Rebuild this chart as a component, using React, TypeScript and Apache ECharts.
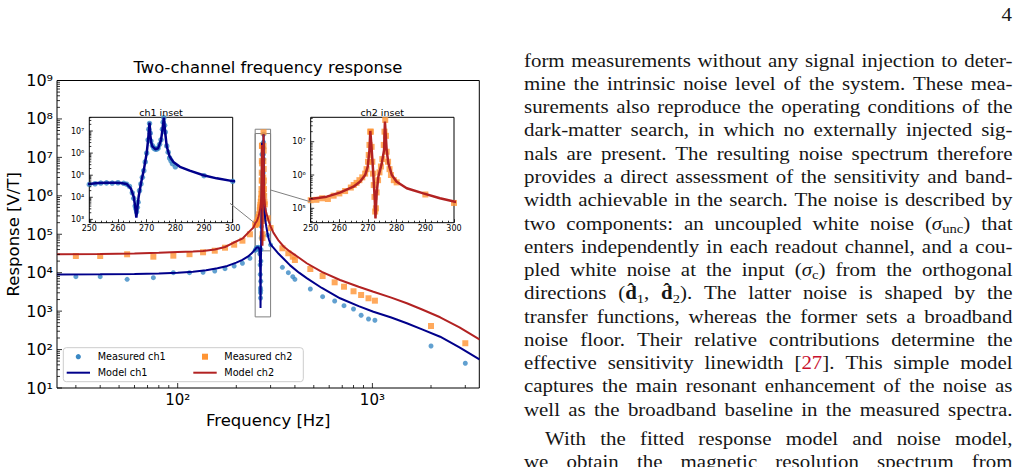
import React, { useEffect, useRef } from "react";
import * as echarts from "echarts";

// ---------------- axis ranges ----------------
const X_RANGE = [24, 3540];
const Y_RANGE = [10, 1e9];
const INSET_X = [250, 300];
const INSET1_Y = [708, 4.17e7];
const INSET2_Y = [3.7e4, 5.4e7];

// ---------------- colours ----------------
const C_MEAS1 = "#3a88c4";
const C_MEAS2 = "#ff9433";
const C_MODEL1 = "#00008b";
const C_MODEL2 = "#b22222";

// ---------------- measured data ----------------
const measCh1Freq = [30, 40, 55, 75, 95, 115, 135, 155, 175, 195, 215, 235,
  250, 252, 254, 256, 258, 260, 262, 263, 264, 265,
  265.5, 266, 266.25, 266.5, 266.75, 267, 267.5, 268, 268.5, 269,
  269.5, 270, 270.5, 270.75, 271, 271.25, 271.5, 272, 272.5, 273,
  273.5, 274, 274.5, 275, 275.5, 275.75, 276, 276.25, 276.5, 277,
  277.5, 278, 278.5, 279, 280, 290, 300,
  345, 370, 390, 400, 480, 555, 640, 715, 800, 875, 955, 1030, 2000, 3000];
const measCh1Val = [7870, 7870, 6730, 7410, 10000, 10000, 10230, 11070, 12700, 14930, 17570, 23700,
  38000, 41000, 44000, 45000, 44000, 45500, 43000, 39000, 31000, 16000,
  9000, 4000, 3000, 2200, 3500, 6000, 20000, 40000, 80000, 160000,
  400000, 1000000, 4000000, 12000000, 22000000, 8000000, 3500000, 2200000, 1700000, 1500000,
  1500000, 1700000, 2500000, 4000000, 12000000, 25000000, 40000000, 18000000, 9000000, 2100000,
  1100000, 600000, 450000, 330000, 240000, 95000, 53000,
  13800, 10000, 7870, 6730, 3770, 2375, 1835, 1386, 1137, 780, 624, 578, 124, 44];

const measCh2Freq = [30, 40, 55, 75, 95, 115, 135, 155, 175, 195, 215, 235,
  250, 252, 254, 256, 258, 260, 262, 264, 265, 266,
  267, 268, 269, 269.5, 270, 270.25, 270.5, 270.75, 271, 271.25,
  271.5, 271.75, 272, 272.25, 272.5, 272.75, 273, 273.5, 274, 274.5,
  275, 275.5, 275.75, 276, 276.25, 276.5, 277, 277.5, 278, 279,
  280, 290, 300,
  345, 370, 390, 400, 480, 555, 640, 715, 800, 875, 955, 1030, 2000, 3000];
const measCh2Val = [27200, 27200, 30100, 26100, 27700, 30300, 33950, 37350, 44700, 53500, 68000, 99800,
  175000, 180000, 200000, 190000, 240000, 280000, 330000, 420000, 500000, 580000,
  700000, 850000, 1100000, 1500000, 2500000, 4000000, 8000000, 20000000, 20000000, 7000000,
  2500000, 1100000, 500000, 220000, 80000, 100000, 300000, 700000, 1200000, 1800000,
  3000000, 8000000, 20000000, 45000000, 15000000, 5000000, 2500000, 1500000, 1000000, 700000,
  600000, 260000, 145000,
  43150, 32000, 26060, 21400, 12470, 8210, 5620, 4320, 3280, 2630, 2160, 1870, 410, 146];

// ---------------- model curves ----------------
const modelCh1Freq = [24, 40, 60, 80, 100, 120, 140, 160, 180, 200, 215, 230, 240, 245,
  250, 253, 256, 259, 261, 263, 264.5, 265.5, 266, 266.4, 266.8, 267.2, 268, 269, 270, 270.5,
  271, 271.3, 271.6, 272, 273, 274, 275, 275.5, 276, 276.4, 277, 278, 279.3, 281.6, 285,
  289.8, 294.4, 300, 310, 330, 350, 378, 420, 460, 550, 682, 850, 1012, 1250, 1503, 1800,
  2228, 2800, 3545];
const modelCh1Val = [9000, 9050, 9200, 9500, 9900, 10600, 11600, 13000, 15000, 18300, 21500, 26500, 32000, 36000,
  40000, 44000, 45500, 45700, 44500, 40000, 25000, 10500, 3700, 1200, 3700, 10500, 42000, 170000, 980000, 3900000,
  24000000, 6000000, 3000000, 2000000, 1500000, 1650000, 3900000, 11000000, 40000000, 10000000, 2000000, 700000, 400000, 240000, 160000,
  100000, 72000, 54000, 45000, 31000, 23000, 15500, 10000, 7200, 4000, 2160, 1350, 966, 680, 483, 335,
  216, 114, 55.8];

const modelCh2Freq = [24, 40, 60, 80, 100, 120, 135, 155, 175, 193, 216, 233, 245,
  250, 255.6, 260.2, 264.9, 267.2, 269, 269.9, 270.5, 270.8, 271.3, 271.9, 272.3, 272.6, 273,
  273.6, 274.8, 275.6, 275.9, 276.5, 277.1, 278.3, 280, 283.5, 289.3, 295.1, 300,
  310, 330, 350, 378, 420, 460, 550, 682, 850, 1012, 1250, 1503, 1800, 2228, 2800, 3545];
const modelCh2Val = [30300, 30800, 31800, 33000, 34600, 35800, 36700, 40000, 46600, 60000, 78500, 117000, 150000,
  190000, 224000, 295000, 447000, 630000, 1000000, 1780000, 5600000, 21000000, 5600000, 890000, 224000, 50000, 275000,
  890000, 2240000, 5600000, 40000000, 5600000, 2240000, 1000000, 630000, 400000, 280000, 200000, 160000,
  110000, 68000, 48000, 35200, 24500, 17600, 10500, 6460, 4300, 3205, 2250, 1600, 1100, 692, 380, 185];

// ---------------- texts ----------------
const TITLE = "Two-channel frequency response";
const X_NAME = "Frequency [Hz]";
const Y_NAME = "Response [V/T]";
const LEGEND_LABELS = ["Measured ch1", "Measured ch2", "Model ch1", "Model ch2"];
const INSET_TITLES = ["ch1 inset", "ch2 inset"];
const PAGE_NUMBER = "4";
const BODY_LINES = [
  "form measurements without any signal injection to deter-",
  "mine the intrinsic noise level of the system. These mea-",
  "surements also reproduce the operating conditions of the",
  "dark-matter search, in which no externally injected sig-",
  "nals are present. The resulting noise spectrum therefore",
  "provides a direct assessment of the sensitivity and band-",
  "width achievable in the search. The noise is described by",
  "two components: an uncoupled white noise ({i|σ}{s|unc}) that",
  "enters independently in each readout channel, and a cou-",
  "pled white noise at the input ({i|σ}{s|c}) from the orthogonal",
  "directions ({b|d\u0302}{s|1}, {b|d\u0302}{s|2}). The latter noise is shaped by the",
  "transfer functions, whereas the former sets a broadband",
  "noise floor. Their relative contributions determine the",
  "effective sensitivity linewidth [{r|27}]. This simple model",
  "captures the main resonant enhancement of the noise as",
  "well as the broadband baseline in the measured spectra.",
  "With the fitted response model and noise model,",
  "we obtain the magnetic resolution spectrum from",
];

const SANS = "DejaVu Sans";
const SERIF = '"Liberation Serif", "Times New Roman", serif';
const SUP = "⁰¹²³⁴⁵⁶⁷⁸⁹";

const pairs = (xs: number[], ys: number[]) => xs.map((x, i) => [x, ys[i]]);

const powLabel = (v: number) => {
  const e = Math.log10(v);
  const r = Math.round(e);
  if (Math.abs(e - r) > 1e-6) return "";
  return "10" + String(r).split("").map((d) => SUP[+d]).join("");
};

function logTicks(lo: number, hi: number) {
  const out: number[][] = [];
  for (let e = Math.floor(Math.log10(lo)); e <= Math.ceil(Math.log10(hi)); e++) {
    for (let m = 1; m <= 9; m++) {
      const v = m * Math.pow(10, e);
      if (v >= lo * 0.9999 && v <= hi * 1.0001) out.push([v, m === 1 ? 1 : 0]);
    }
  }
  return out;
}

function tickSeries(idx: number, xMin: number, yMin: number, ticks: number[][], axis: "x" | "y", majorLen: number, minorLen: number) {
  return {
    type: "custom",
    xAxisIndex: idx,
    yAxisIndex: idx,
    silent: true,
    clip: false,
    z: 6,
    data: ticks.map(([v, major]) => (axis === "x" ? [v, yMin, major] : [xMin, v, major])),
    renderItem: (_p: any, api: any) => {
      const p = api.coord([api.value(0), api.value(1)]);
      const len = api.value(2) ? majorLen : minorLen;
      const shape = axis === "x"
        ? { x1: p[0], y1: p[1], x2: p[0], y2: p[1] - len }
        : { x1: p[0], y1: p[1], x2: p[0] + len, y2: p[1] };
      return { type: "line", shape, style: { stroke: "#000", lineWidth: 0.8 } };
    },
  };
}

// ---------------- body text (justified) ----------------
type Seg = { st: string; t: string };
const BODY_SIZE = 19;
const BODY_SX = 1.1;
const STY: Record<string, { size: number; style?: string; weight?: string; dy?: number; color?: string }> = {
  n: { size: BODY_SIZE },
  i: { size: BODY_SIZE, style: "italic" },
  b: { size: BODY_SIZE, weight: "bold" },
  s: { size: 13.3, dy: 3.8 },
  r: { size: BODY_SIZE, color: "#c8102e" },
};
const fontStr = (k: string) => {
  const s = STY[k];
  return `${s.style || "normal"} ${s.weight || "normal"} ${s.size}px ${SERIF}`;
};
function parseWord(w: string): Seg[] {
  const re = /\{(\w)\|([^}]*)\}|([^{]+)/g;
  const out: Seg[] = [];
  let m: RegExpExecArray | null;
  while ((m = re.exec(w))) {
    if (m[3] !== undefined) out.push({ st: "n", t: m[3] });
    else out.push({ st: m[1], t: m[2] });
  }
  return out;
}
function buildBody() {
  const canvas = document.createElement("canvas");
  const ctx = canvas.getContext("2d")!;
  const meas = (s: Seg) => {
    ctx.font = fontStr(s.st);
    return ctx.measureText(s.t).width * BODY_SX;
  };
  const els: any[] = [];
  const LEFT = 524, RIGHT = 1012.5, B0 = 66.3, LS = 23.28, PARSKIP = 6;
  BODY_LINES.forEach((line, i) => {
    const words = line.split(" ").map(parseWord);
    const widths = words.map((ws) => ws.reduce((a, s) => a + meas(s), 0));
    const total = widths.reduce((a, b) => a + b, 0);
    const left = i === 16 ? 545 : LEFT;
    const gap = (RIGHT - left - total) / (words.length - 1);
    const base = B0 + i * LS + (i >= 16 ? PARSKIP : 0);
    let x = left;
    words.forEach((ws, wi) => {
      let xx = x;
      ws.forEach((s) => {
        const st = STY[s.st];
        els.push({
          type: "text",
          x: xx,
          y: base + (st.dy || 0) - 0.3375 * st.size,
          scaleX: BODY_SX,
          silent: true,
          style: {
            text: s.t, font: fontStr(s.st), fill: st.color || "#161616",
            textAlign: "left", align: "left", textVerticalAlign: "middle", verticalAlign: "middle",
          },
        });
        xx += meas(s);
      });
      x += widths[wi] + gap;
    });
  });
  els.push({
    type: "text", x: 1012, y: 14, silent: true, scaleX: BODY_SX,
    style: { text: PAGE_NUMBER, font: `${BODY_SIZE}px ${SERIF}`, fill: "#161616", textAlign: "right", align: "right", textVerticalAlign: "middle", verticalAlign: "middle" },
  });
  return els;
}

function txt(x: number, y: number, text: string, size: number, align = "center", extra: any = {}) {
  return {
    type: "text", x, y, silent: true, z: 20, ...extra,
    style: { text, font: `${size}px "${SANS}"`, fill: "#000", textAlign: align, align, textVerticalAlign: "middle", verticalAlign: "middle" },
  };
}

function buildOption() {
  const axisLabelMain = (size: number, margin: number) => ({
    fontFamily: SANS, fontSize: size, color: "#000", margin, formatter: (v: number) => powLabel(v),
  });
  const noLines = { axisLine: { show: false }, axisTick: { show: false }, splitLine: { show: false } };
  const insetX = (idx: number) => ({
    type: "value", gridIndex: idx, min: INSET_X[0], max: INSET_X[1], interval: 10,
    axisLine: { show: false }, splitLine: { show: false }, minorSplitLine: { show: false },
    axisTick: { show: true, inside: true, length: 3.5, lineStyle: { color: "#000", width: 0.8 } },
    minorTick: { show: true, splitNumber: 5, length: 2, lineStyle: { color: "#000", width: 0.8 } },
    axisLabel: { fontFamily: SANS, fontSize: 8, color: "#000", margin: 2 },
  });
  const insetY = (idx: number, r: number[]) => ({
    type: "log", gridIndex: idx, min: r[0], max: r[1], ...noLines,
    axisLabel: { fontFamily: SANS, fontSize: 8, color: "#000", margin: 5, formatter: (v: number) => powLabel(v) },
  });
  const gridStyle = { show: true, borderColor: "#000", borderWidth: 1, backgroundColor: "transparent" };

  const legendEls = [
    { type: "rect", z: 19, silent: true, shape: { x: 63.3, y: 347.7, width: 240, height: 34, r: 3 }, style: { fill: "rgba(255,255,255,0.8)", stroke: "#cccccc", lineWidth: 1 } },
    { type: "circle", z: 20, silent: true, shape: { cx: 78.3, cy: 356.7, r: 2.6 }, style: { fill: C_MEAS1 } },
    txt(97.7, 356.7, LEGEND_LABELS[0], 9.7, "left"),
    { type: "rect", z: 20, silent: true, shape: { x: 202, y: 353.7, width: 6, height: 6 }, style: { fill: C_MEAS2 } },
    txt(224.3, 356.7, LEGEND_LABELS[1], 9.7, "left"),
    { type: "line", z: 20, silent: true, shape: { x1: 66.7, y1: 372.7, x2: 90, y2: 372.7 }, style: { stroke: C_MODEL1, lineWidth: 2 } },
    txt(97.7, 372.7, LEGEND_LABELS[2], 9.7, "left"),
    { type: "line", z: 20, silent: true, shape: { x1: 193.3, y1: 372.7, x2: 216.7, y2: 372.7 }, style: { stroke: C_MODEL2, lineWidth: 2 } },
    txt(224.3, 372.7, LEGEND_LABELS[3], 9.7, "left"),
  ];

  const connectors = [
    { type: "line", silent: true, z: 3, shape: { x1: 230, y1: 203.3, x2: 255, y2: 223.3 }, style: { stroke: "#808080", lineWidth: 1 } },
    { type: "line", silent: true, z: 3, shape: { x1: 270.6, y1: 190, x2: 310.7, y2: 201.8 }, style: { stroke: "#808080", lineWidth: 1 } },
  ];

  const m1 = pairs(measCh1Freq, measCh1Val);
  const m2 = pairs(measCh2Freq, measCh2Val);
  const l1 = pairs(modelCh1Freq, modelCh1Val);
  const l2 = pairs(modelCh2Freq, modelCh2Val);

  const scatter = (name: string, idx: number, data: number[][], color: string, symbol: string, size: number, extra: any = {}) => ({
    type: "scatter", name, xAxisIndex: idx, yAxisIndex: idx, data, symbol, symbolSize: size,
    itemStyle: { color }, silent: true, z: 2, clip: true, ...extra,
  });
  const line = (name: string, idx: number, data: number[][], color: string, width: number) => ({
    type: "line", name, xAxisIndex: idx, yAxisIndex: idx, data, symbol: "none", showSymbol: false,
    lineStyle: { color, width }, itemStyle: { color }, silent: true, z: 3, clip: true, smooth: false,
  });

  return {
    animation: false,
    backgroundColor: "#ffffff",
    grid: [
      { left: 57, top: 80.5, width: 422.3, height: 307.5, ...gridStyle },
      { left: 89.3, top: 117.3, width: 143.4, height: 105.4, ...gridStyle },
      { left: 310.7, top: 117.3, width: 143.3, height: 105.4, ...gridStyle },
    ],
    xAxis: [
      {
        type: "log", gridIndex: 0, min: X_RANGE[0], max: X_RANGE[1], ...noLines,
        axisLabel: axisLabelMain(15, 4),
        name: X_NAME, nameLocation: "middle", nameGap: 23,
        nameTextStyle: { fontFamily: SANS, fontSize: 16.5, color: "#000" },
      },
      insetX(1),
      insetX(2),
    ],
    yAxis: [
      {
        type: "log", gridIndex: 0, min: Y_RANGE[0], max: Y_RANGE[1], ...noLines,
        axisLabel: axisLabelMain(16, 4),
        name: Y_NAME, nameLocation: "middle", nameGap: 33, nameRotate: 90,
        nameTextStyle: { fontFamily: SANS, fontSize: 16.5, color: "#000" },
      },
      insetY(1, INSET1_Y),
      insetY(2, INSET2_Y),
    ],
    series: [
      scatter(LEGEND_LABELS[0], 0, m1, C_MEAS1, "circle", 5, {
        markArea: {
          silent: true,
          itemStyle: { color: "rgba(0,0,0,0)", borderColor: "#808080", borderWidth: 1 },
          data: [
            [{ coord: [INSET_X[0], INSET1_Y[0]] }, { coord: [INSET_X[1], INSET1_Y[1]] }],
            [{ coord: [INSET_X[0], INSET2_Y[0]] }, { coord: [INSET_X[1], INSET2_Y[1]] }],
          ],
        },
      }),
      scatter(LEGEND_LABELS[1], 0, m2, C_MEAS2, "rect", 6),
      line(LEGEND_LABELS[2], 0, l1, C_MODEL1, 2),
      line(LEGEND_LABELS[3], 0, l2, C_MODEL2, 2),
      scatter(LEGEND_LABELS[0], 1, m1, C_MEAS1, "circle", 5.5),
      line(LEGEND_LABELS[2], 1, l1, C_MODEL1, 2.5),
      scatter(LEGEND_LABELS[1], 2, m2, C_MEAS2, "rect", 6),
      line(LEGEND_LABELS[3], 2, l2, C_MODEL2, 2.5),
      tickSeries(0, X_RANGE[0], Y_RANGE[0], logTicks(X_RANGE[0], X_RANGE[1]), "x", 5, 3),
      tickSeries(0, X_RANGE[0], Y_RANGE[0], logTicks(Y_RANGE[0], Y_RANGE[1]), "y", 5, 3),
      tickSeries(1, INSET_X[0], INSET1_Y[0], logTicks(INSET1_Y[0], INSET1_Y[1]), "y", 3.5, 2),
      tickSeries(2, INSET_X[0], INSET2_Y[0], logTicks(INSET2_Y[0], INSET2_Y[1]), "y", 3.5, 2),
    ],
    graphic: [
      txt(268, 67.5, TITLE, 16.4),
      txt(161, 112.3, INSET_TITLES[0], 9.5),
      txt(382.3, 112.3, INSET_TITLES[1], 9.5),
      ...connectors,
      ...legendEls,
      ...buildBody(),
    ],
  };
}

export default function App() {
  const ref = useRef<HTMLDivElement>(null);
  useEffect(() => {
    const chart = echarts.init(ref.current!, null, { renderer: "svg" });
    chart.setOption(buildOption() as any);
    return () => chart.dispose();
  }, []);
  return (
    <div
      ref={ref}
      style={{ position: "absolute", left: 0, top: 0, width: 1020, height: 467, background: "#fff" }}
    />
  );
}
